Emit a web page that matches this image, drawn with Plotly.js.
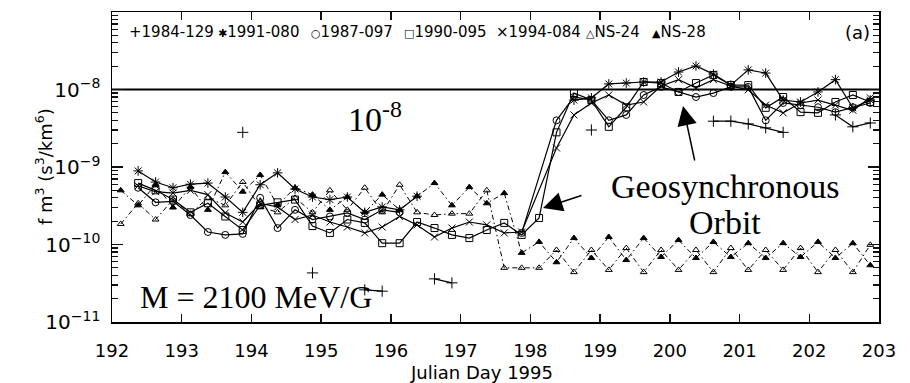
<!DOCTYPE html>
<html>
<head>
<meta charset="utf-8">
<script src="https://cdn.plot.ly/plotly-3.0.1.min.js"></script>
<style>html,body{margin:0;padding:0;background:#fff;}#chart{width:910px;height:383px;}</style>
</head>
<body>
<div id="chart"></div>
<script>
// Sample times (Julian day 1995, 6-hour cadence)
const days = [192.125,192.375,192.625,192.875,193.125,193.375,193.625,193.875,
  194.125,194.375,194.625,194.875,195.125,195.375,195.625,195.875,
  196.125,196.375,196.625,196.875,197.125,197.375,197.625,197.875,
  198.125,198.375,198.625,198.875,199.125,199.375,199.625,199.875,
  200.125,200.375,200.625,200.875,201.125,201.375,201.625,201.875,
  202.125,202.375,202.625,202.875];

// Phase space density f (s^3/km^6) per satellite; null = no sample
const sat1984_129 = [null,null,null,null,null,null,null,2.8e-9,null,null,null,4.3e-11,
  null,null,2.6e-11,2.5e-11,null,null,3.6e-11,3.2e-11,null,null,null,null,
  null,null,null,3.0e-9,null,null,null,null,null,null,3.9e-9,3.9e-9,
  3.6e-9,3.2e-9,2.8e-9,null,null,4.7e-9,3.3e-9,3.7e-9];
const sat1991_080 = [null,8.9e-10,6.4e-10,5.4e-10,6.0e-10,6.2e-10,4.1e-10,2.6e-10,
  5.9e-10,8.4e-10,5.2e-10,4.1e-10,3.8e-10,4.1e-10,2.6e-10,3.05e-10,2.8e-10,4.2e-10,
  null,null,null,null,null,null,null,null,
  7.3e-9,7.8e-9,1.18e-8,1.21e-8,1.25e-8,1.25e-8,1.68e-8,2.01e-8,1.58e-8,1.14e-8,
  1.79e-8,1.63e-8,7.3e-9,6.9e-9,9.3e-9,1.34e-8,5.8e-9,7.3e-9];
const sat1987_097 = [null,5.4e-10,3.5e-10,3.6e-10,2.4e-10,1.45e-10,1.33e-10,1.37e-10,
  4.0e-10,1.63e-10,2.8e-10,2.1e-10,2.3e-10,2.55e-10,2.1e-10,2.8e-10,2.6e-10,
  null,null,null,null,null,null,1.41e-10,null,
  4.0e-9,8.0e-9,7.3e-9,4.0e-9,4.7e-9,8.5e-9,1.08e-8,9.3e-9,8.0e-9,9.0e-9,
  1.08e-8,1.08e-8,4.0e-9,6.7e-9,6.3e-9,5.9e-9,5.1e-9,5.9e-9,6.7e-9];
const sat1990_095 = [null,6.2e-10,5.0e-10,3.8e-10,2.6e-10,3.4e-10,2.3e-10,1.54e-10,
  3.2e-10,3.5e-10,3.8e-10,1.73e-10,1.41e-10,2.1e-10,1.9e-10,1.04e-10,1.04e-10,
  1.95e-10,1.63e-10,1.33e-10,1.21e-10,1.54e-10,1.9e-10,1.33e-10,2.2e-10,
  2.8e-9,9.0e-9,7.3e-9,3.3e-9,5.9e-9,1.25e-8,1.21e-8,9.3e-9,1.21e-8,1.54e-8,
  1.14e-8,1.14e-8,5.8e-9,8.0e-9,5.1e-9,5.0e-9,6.9e-9,8.5e-9,6.9e-9];
const sat1994_084 = [null,5.7e-10,4.8e-10,4.6e-10,5.0e-10,4.4e-10,2.55e-10,1.95e-10,
  3.4e-10,3.05e-10,2.1e-10,2.4e-10,1.95e-10,1.68e-10,1.41e-10,1.68e-10,2.3e-10,
  1.79e-10,1.25e-10,1.63e-10,1.95e-10,1.79e-10,1.41e-10,1.45e-10,null,
  1.76e-9,4.7e-9,6.7e-9,8.5e-9,6.3e-9,6.9e-9,1.11e-8,1.34e-8,1.05e-8,1.34e-8,
  1.11e-8,9.9e-9,6.3e-9,5.0e-9,6.7e-9,7.3e-9,6.3e-9,5.4e-9,7.8e-9];
const satNS24 = [1.84e-10,3.4e-10,2.1e-10,3.8e-10,2.5e-10,4.0e-10,3.2e-10,6.4e-10,
  3.05e-10,2.6e-10,4.0e-10,2.6e-10,5.0e-10,2.8e-10,5.4e-10,2.6e-10,5.9e-10,2.6e-10,
  2.4e-10,2.5e-10,2.5e-10,5.0e-10,5.0e-11,5.0e-11,5.0e-11,
  8.5e-11,4.4e-11,8.5e-11,4.7e-11,9.0e-11,4.4e-11,8.5e-11,4.7e-11,8.5e-11,4.4e-11,
  9.0e-11,4.7e-11,8.5e-11,4.7e-11,9.0e-11,4.4e-11,8.5e-11,4.4e-11,9.9e-11];
const satNS28 = [5.0e-10,3.2e-10,5.9e-10,3.0e-10,5.5e-10,2.8e-10,8.6e-10,4.8e-10,
  7.9e-10,3.2e-10,5.4e-10,4.4e-10,2.8e-10,4.1e-10,2.6e-10,4.4e-10,2.8e-10,4.2e-10,
  6.2e-10,3.2e-10,5.5e-10,3.4e-10,4.6e-10,
  7.8e-11,1.08e-10,5.9e-11,1.21e-10,6.7e-11,1.25e-10,6.3e-11,1.21e-10,6.9e-11,
  1.14e-10,6.7e-11,1.08e-10,6.9e-11,1.04e-10,6.7e-11,1.04e-10,6.9e-11,1.08e-10,
  6.7e-11,1.04e-10,5.4e-11];

const seriesNames = ['1984-129','1991-080','1987-097','1990-095','1994-084','NS-24','NS-28'];
const legendGlyphs = ['+','\u2731','\u25CB','\u25A1','\u00D7','\u25B3','\u25B2'];
const geoLevel = 1e-8;
const xTickRange = [192, 203];
const yDecades = [-11, -7];

// Build x/y, breaking the line when samples are further apart than 0.5 day
function build(vals){
  const x=[], y=[]; let last=null;
  for(let i=0;i<days.length;i++){
    const v=vals[i]; if(v===null) continue;
    if(last!==null && days[i]-last>0.51){x.push(null); y.push(null);}
    x.push(days[i]); y.push(v); last=days[i];
  }
  return {x,y};
}

const specs = [
  {vals:satNS24, sym:'triangle-up-open', size:6, dash:'5px,3px,1.5px,3px', w:1, ya:'y3'},
  {vals:satNS28, sym:'triangle-up', size:6, dash:'5px,3px,1.5px,3px', w:1, ya:'y'},
  {vals:sat1984_129, sym:'cross-thin-open', size:8, dash:'solid', w:1.2, ya:'y'},
  {vals:sat1991_080, sym:'asterisk-open', size:8, dash:'solid', w:1.2, ya:'y'},
  {vals:sat1987_097, sym:'circle-open', size:7, dash:'solid', w:1.2, ya:'y'},
  {vals:sat1990_095, sym:'square-open', size:7, dash:'solid', w:1.2, ya:'y'},
  {vals:sat1994_084, sym:'x-thin-open', size:7, dash:'solid', w:1.2, ya:'y'},
];

const traces = specs.map(s=>{
  const d=build(s.vals);
  return {x:d.x, y:d.y, type:'scatter', mode:'lines+markers', connectgaps:false, yaxis:s.ya,
    line:{color:'#000', width:s.w, dash:s.dash},
    marker:{symbol:s.sym, size:s.size, color:'#000', line:{color:'#000', width:1}},
    hoverinfo:'skip', showlegend:false};
});
// 10^-8 reference level, drawn on the overlay axes that carry the inside ticks
traces.push({x:xTickRange, y:[geoLevel, geoLevel], type:'scatter', mode:'lines',
  xaxis:'x2', yaxis:'y2', line:{color:'#000', width:2}, hoverinfo:'skip', showlegend:false});

// annotation placement helpers (pixel -> paper)
const L=112, T=12, W=767, H=310;
const px = x => (x-L)/W;
const py = y => (T+H-y)/H;

const sans = 'DejaVu Sans, Liberation Sans, Arial, sans-serif';
const serif = 'Liberation Serif, Times New Roman, serif';

const legendX = [127, 216, 309, 402, 494, 584, 650];
const annotations = [];
seriesNames.forEach((n,i)=>{
  const small = (i===0||i===4) ? 15 : 11;
  annotations.push({xref:'paper', yref:'paper', x:px(legendX[i]), y:py(32), xanchor:'left', yanchor:'middle',
    showarrow:false, text:'<span style="font-size:'+small+'px">'+legendGlyphs[i]+'</span>'+n,
    font:{family:sans, size:15, color:'#000'}});
});
annotations.push({xref:'paper', yref:'paper', x:px(857), y:py(32), xanchor:'center', yanchor:'middle',
  showarrow:false, text:'(a)', font:{family:sans, size:18, color:'#000'}});
annotations.push({xref:'paper', yref:'paper', x:px(346), y:py(117), xanchor:'left', yanchor:'middle',
  showarrow:false, text:'10<sup>-8</sup>', font:{family:serif, size:34, color:'#000'}});
annotations.push({xref:'paper', yref:'paper', x:px(256), y:py(297), xanchor:'center', yanchor:'middle',
  showarrow:false, text:'M = 2100 MeV/G', font:{family:serif, size:32, color:'#000'}});
annotations.push({xref:'paper', yref:'paper', x:px(725), y:py(186), xanchor:'center', yanchor:'middle',
  showarrow:false, text:'Geosynchronous', font:{family:serif, size:34, color:'#000'}});
annotations.push({xref:'paper', yref:'paper', x:px(725), y:py(222), xanchor:'center', yanchor:'middle',
  showarrow:false, text:'Orbit', font:{family:serif, size:34, color:'#000'}});
annotations.push({xref:'paper', yref:'paper', x:px(683), y:py(106), text:'', showarrow:true,
  ax:12, ay:56, arrowhead:2, arrowsize:2.6, arrowwidth:1.5, arrowcolor:'#000', standoff:0});
annotations.push({xref:'paper', yref:'paper', x:px(543), y:py(208), text:'', showarrow:true,
  ax:40, ay:-13, arrowhead:2, arrowsize:2.6, arrowwidth:1.5, arrowcolor:'#000', standoff:0});
annotations.push({xref:'paper', yref:'paper', x:px(44), y:py(167), textangle:-90, xanchor:'center', yanchor:'middle',
  showarrow:false, text:'f m<sup>3</sup> (s<sup>3</sup>/km<sup>6</sup>)', font:{family:sans, size:18, color:'#000'}});
annotations.push({xref:'paper', yref:'paper', x:px(481), y:py(372), xanchor:'center', yanchor:'middle',
  showarrow:false, text:'Julian Day 1995', font:{family:sans, size:18, color:'#000'}});

const layout = {
  width:910, height:383,
  margin:{l:112, r:31, t:12, b:61, pad:0},
  paper_bgcolor:'#fff', plot_bgcolor:'rgba(0,0,0,0)',
  showlegend:false,
  // label-carrying axes (frame lines + labels)
  xaxis:{range:xTickRange, tickmode:'linear', tick0:192, dtick:1, ticks:'',
    showline:true, linecolor:'#000', linewidth:1.5, mirror:true,
    showgrid:false, zeroline:false, ticklabelstandoff:12,
    tickfont:{family:sans, size:18, color:'#000'}},
  yaxis:{type:'log', range:yDecades, dtick:1, exponentformat:'power', showexponent:'all',
    ticks:'', showline:true, linecolor:'#000', linewidth:1.5, mirror:true,
    showgrid:false, zeroline:false, ticklabelstandoff:7,
    tickfont:{family:sans, size:16, color:'#000'}},
  // overlay axes that draw the inside ticks, mirrored on the opposite sides
  xaxis2:{range:xTickRange, overlaying:'x', side:'bottom', tickmode:'linear', tick0:192, dtick:1,
    ticks:'inside', ticklen:8, tickwidth:1.5, tickcolor:'#111', showticklabels:false,
    showline:false, mirror:'ticks', showgrid:false, zeroline:false},
  yaxis2:{type:'log', range:yDecades, overlaying:'y', side:'left', dtick:'D1',
    ticks:'inside', ticklen:6, tickwidth:1.2, tickcolor:'#111', showticklabels:false,
    showline:false, mirror:'ticks', showgrid:false, zeroline:false},
  yaxis3:{type:'log', range:yDecades, overlaying:'y', side:'left', dtick:1,
    ticks:'inside', ticklen:11, tickwidth:1.5, tickcolor:'#111', showticklabels:false,
    showline:false, mirror:'ticks', showgrid:false, zeroline:false},
  annotations:annotations
};

Plotly.newPlot('chart', traces, layout, {displayModeBar:false, staticPlot:true});
</script>
</body>
</html>
